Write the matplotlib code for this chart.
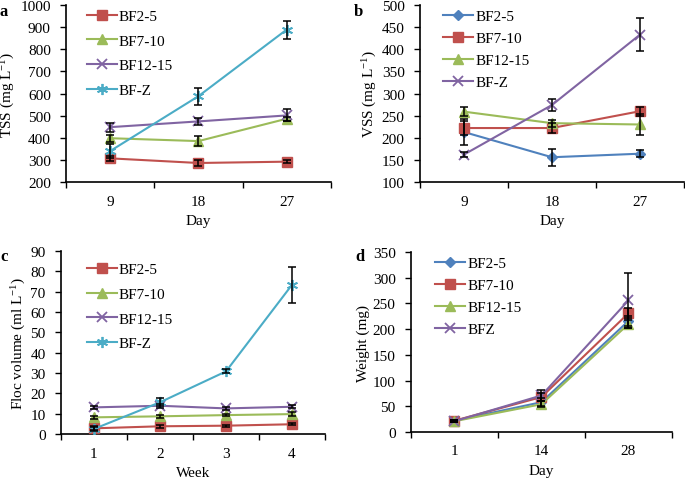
import matplotlib
matplotlib.use("Agg")
import matplotlib.pyplot as plt
import numpy as np

plt.rcParams["font.family"] = ["Liberation Serif", "DejaVu Serif"]
plt.rcParams["font.size"] = 11
plt.rcParams["mathtext.fontset"] = "custom"
plt.rcParams["mathtext.rm"] = "Liberation Serif"
plt.rcParams["mathtext.default"] = "rm"

# panel a: TSS
tss_days = ["9", "18", "27"]
tss_names = ["BF2-5", "BF7-10", "BF12-15", "BF-Z"]
tss_vals = [[307, 286, 292], [398, 385, 486], [448, 474, 501], [340, 588, 889]]
tss_err = [[10, 15, 8], [15, 21, 8], [20, 15, 27], [30, 38, 41]]

# panel b: VSS
vss_days = ["9", "18", "27"]
vss_names = ["BF2-5", "BF7-10", "BF12-15", "BF-Z"]
vss_vals = [[213, 156, 164], [222, 222, 260], [259, 233, 230], [162, 274, 433]]
vss_err = [[30, 19, 8], [15, 12, 10], [10, 8, 23], [5, 14, 37]]

# panel c: floc volume
floc_weeks = ["1", "2", "3", "4"]
floc_names = ["BF2-5", "BF7-10", "BF12-15", "BF-Z"]
floc_vals = [[2.8, 3.8, 4.1, 4.8], [8.2, 8.7, 9.3, 9.8],
             [13.1, 13.9, 12.6, 13.4], [2.5, 15.6, 30.8, 73.4]]
floc_err = [[1.0, 0.8, 0.5, 0.6], [0.8, 0.8, 0.6, 0.8],
            [0.8, 1.0, 0.8, 0.8], [0.8, 2.0, 1.0, 8.8]]

# panel d: weight
wt_days = ["1", "14", "28"]
wt_names = ["BF2-5", "BF7-10", "BF12-15", "BFZ"]
wt_vals = [[22, 58, 216], [22, 68, 231], [21, 54, 210], [21, 71, 256]]
wt_err = [[2, 8, 10], [2, 8, 10], [2, 6, 8], [2, 10, 53]]

RED = "#C0504D"
GREEN = "#9BBB59"
PURPLE = "#8064A2"
CYAN = "#4BACC6"
BLUE = "#4F81BD"

sty = {
    "sq": dict(marker="s", ms=7),
    "tri": dict(marker="^", ms=7),
    "x": dict(marker="x", ms=7, mew=1.3),
    "star": dict(marker=(6, 2, 0), ms=8, mew=1.3),
    "dia": dict(marker="D", ms=5.5),
}


def panel(ax, cats, names, vals, errs, styles, ylim, yticks, ylabel, xlabel,
          bbox, spacing):
    x = np.arange(1, len(cats) + 1)
    for name, v, e, (color, m) in zip(names, vals, errs, styles):
        ax.plot(x, v, color=color, lw=1.5, label=name, mfc=color, mec=color,
                zorder=3, **sty[m])
        ax.errorbar(x, v, yerr=e, fmt="none", ecolor="black", elinewidth=1.1,
                    capsize=3, capthick=1.1, zorder=4)
    ax.set_xlim(0.5, len(cats) + 0.5)
    ax.set_ylim(*ylim)
    ax.set_yticks(yticks)
    ax.set_xticks(x)
    ax.set_xticklabels(cats)
    ax.set_xticks(np.arange(0.5, len(cats) + 1), minor=True)
    ax.tick_params(axis="x", which="major", length=0, pad=9)
    ax.tick_params(axis="x", which="minor", length=4, direction="out", width=1)
    ax.tick_params(axis="y", length=4, direction="out", width=1, pad=7)
    for s in ["top", "right"]:
        ax.spines[s].set_visible(False)
    for s in ["left", "bottom"]:
        ax.spines[s].set_linewidth(1.2)
    ax.set_ylabel(ylabel, labelpad=2)
    ax.set_xlabel(xlabel, labelpad=5)
    ax.legend(loc="upper left", bbox_to_anchor=bbox, frameon=False,
              handlelength=1.95, labelspacing=spacing, handletextpad=0.15,
              borderaxespad=0)


fig = plt.figure(figsize=(6.85, 4.81), dpi=100)
ax_a = fig.add_axes([0.0964, 0.6195, 0.3866, 0.368])
ax_b = fig.add_axes([0.613, 0.6195, 0.3855, 0.368])
ax_c = fig.add_axes([0.089, 0.0956, 0.3855, 0.3804])
ax_d = fig.add_axes([0.600, 0.0998, 0.381, 0.3742])

panel(ax_a, tss_days, tss_names, tss_vals, tss_err,
      [(RED, "sq"), (GREEN, "tri"), (PURPLE, "x"), (CYAN, "star")],
      (200, 1000), range(200, 1001, 100), "TSS (mg L$^{-1}$)", "Day",
      (0.055, 1.01), 0.72)
panel(ax_b, vss_days, vss_names, vss_vals, vss_err,
      [(BLUE, "dia"), (RED, "sq"), (GREEN, "tri"), (PURPLE, "x")],
      (100, 500), range(100, 501, 50), "VSS (mg L$^{-1}$)", "Day",
      (0.065, 1.01), 0.55)
panel(ax_c, floc_weeks, floc_names, floc_vals, floc_err,
      [(RED, "sq"), (GREEN, "tri"), (PURPLE, "x"), (CYAN, "star")],
      (0, 90), range(0, 91, 10), "Floc volume (ml L$^{-1}$)", "Week",
      (0.075, 0.97), 0.72)
panel(ax_d, wt_days, wt_names, wt_vals, wt_err,
      [(BLUE, "dia"), (RED, "sq"), (GREEN, "tri"), (PURPLE, "x")],
      (0, 350), range(0, 351, 50), "Weight (mg)", "Day",
      (0.07, 1.01), 0.55)

for letter, px, py in [("a", 0, 4), ("b", 354, 4), ("c", 0, 249), ("d", 355, 249)]:
    fig.text(px / 685, 1 - py / 481, letter, fontweight="bold", fontsize=12,
             ha="left", va="top")

fig.savefig("out.png", dpi=100)
